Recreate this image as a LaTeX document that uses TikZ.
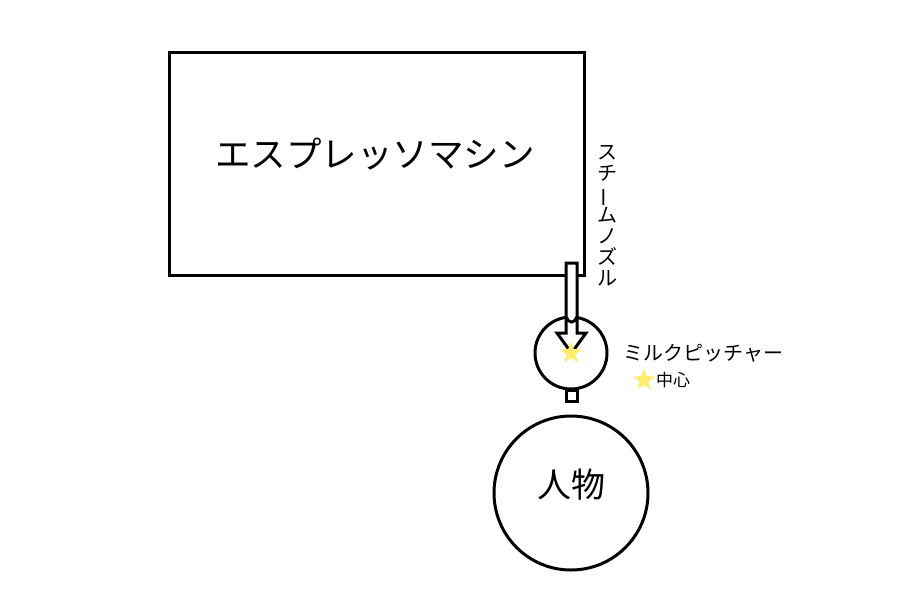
\documentclass[tikz,border=0pt]{standalone}
\usepackage{fontspec}
\usepackage{graphicx}
\setmainfont{Noto Sans CJK JP}
\usetikzlibrary{positioning, shapes.geometric}
\definecolor{staryellow}{RGB}{255,238,110}
\tikzstyle{machinebox} = [rectangle, minimum width=415pt, minimum height=223pt, draw=black, line width=3pt, inner sep=0pt]
\tikzstyle{ring} = [circle, draw=black, line width=3pt, fill=white, inner sep=0pt]
\tikzstyle{centerstar} = [star, star points=5, star point ratio=2.4, fill=staryellow, inner sep=0pt]
\tikzstyle{outline} = [draw=black, line width=3pt, line join=miter]

\begin{document}
\begin{tikzpicture}[x=1pt, y=-1pt]
			\useasboundingbox (0,0) rectangle (902,606);
			%本体
			\node (machine) [machinebox] at (376.5,163.5) {};
			\node (machinetext) [font=\fontsize{35.5}{40}\selectfont] at (375,154) {エスプレッソマシン};
			\node (nozzletext) [align=center, inner sep=0pt, font=\fontsize{20}{21}\selectfont] at (607,216) {ス\\チ\\\rotatebox[origin=c]{90}{ー}\\ム\\ノ\\ズ\\ル};
			
			%ミルクピッチャー
			\node (pitcher) [ring, minimum size=72pt] at (571,353) {};
			\draw [outline, fill=white] (566,263) -- (566,333) -- (557,333) -- (571.5,353) -- (586,333) -- (577,333) -- (577,263) -- cycle;
			\draw [outline] (566.5,317) arc[start angle=180, end angle=0, radius=5];
			\node (pitcherstar) [centerstar, minimum size=23pt] at (pitcher.center) {};
			\node (pitchertext) [anchor=west, font=\fontsize{20}{24}\selectfont] at (620,353) {ミルクピッチャー};
			\node (legendstar) [centerstar, minimum size=23pt] at (644,380) {};
			\node (legendtext) [anchor=west, inner sep=0pt, font=\fontsize{17}{20}\selectfont] at (656,380) {中心};
			\draw [outline] (566,390) rectangle (577,401);
			
			%人物
			\node (person) [ring, minimum size=154pt] at (571,493) {};
			\node (persontext) [font=\fontsize{34}{40}\selectfont] at (571,485) {人物};
		\end{tikzpicture}
\end{document}
